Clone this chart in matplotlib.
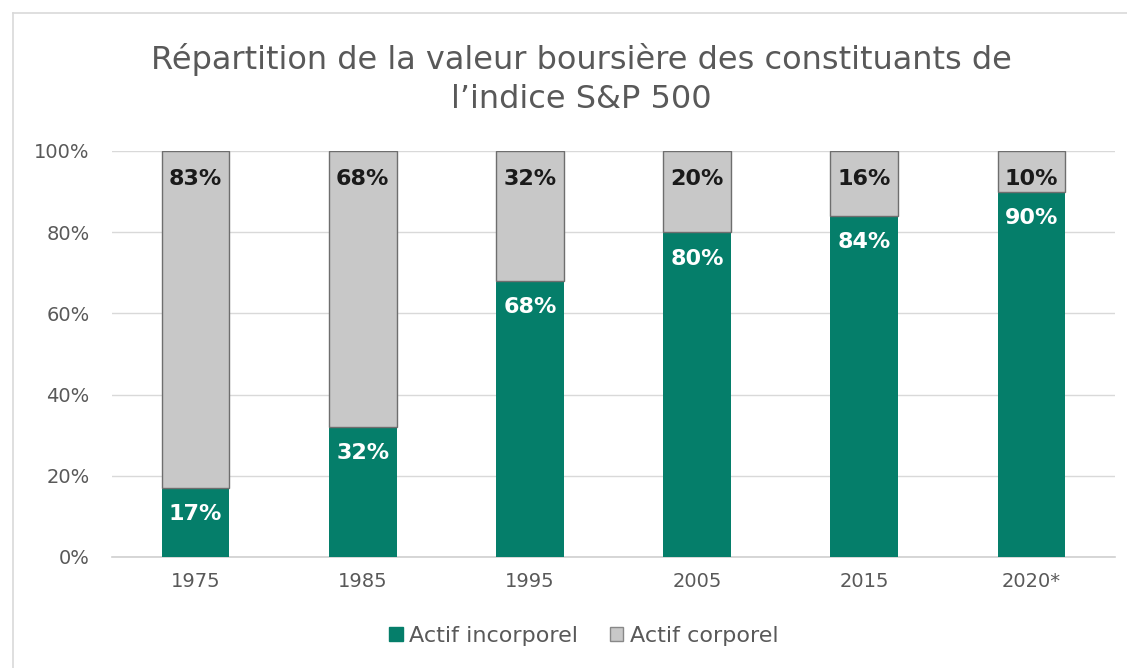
import matplotlib.pyplot as plt
from matplotlib.patches import Patch
from matplotlib.lines import Line2D
import numpy as np

# data
years = ['1975', '1985', '1995', '2005', '2015', '2020*']
incorporel = [17, 32, 68, 80, 84, 90]
corporel = [83, 68, 32, 20, 16, 10]

green = '#057e6a'
grey = '#c8c8c8'
text_grey = '#595959'

plt.rcParams['font.family'] = ['DejaVu Sans']

fig = plt.figure(figsize=(11.27, 6.68), dpi=100)
ax = fig.add_axes([0.0994, 0.1662, 0.8900, 0.6078])

x = np.arange(len(years))
w = 0.405
ax.bar(x, incorporel, w, color=green, zorder=3)
ax.bar(x, corporel, w, bottom=incorporel, color=grey,
       edgecolor='#6e6e6e', linewidth=1.0, zorder=3)

# labels near top of each segment
for xi, v in zip(x, incorporel):
    ax.annotate(f'{v}%', (xi, v), xytext=(0, -19), textcoords='offset points',
                ha='center', va='center', color='white', fontsize=16,
                fontweight='bold', zorder=4)
for xi, v in zip(x, corporel):
    ax.annotate(f'{v}%', (xi, 100), xytext=(0, -20), textcoords='offset points',
                ha='center', va='center', color='#1a1a1a', fontsize=16,
                fontweight='bold', zorder=4)

ax.set_xlim(-0.5, len(years) - 0.5)
ax.set_ylim(0, 100)
ax.set_yticks([0, 20, 40, 60, 80, 100])
ax.set_yticklabels([f'{t}%' for t in [0, 20, 40, 60, 80, 100]])
ax.set_xticks(x)
ax.set_xticklabels(years)
ax.tick_params(axis='both', length=0, labelsize=14, labelcolor=text_grey)
ax.tick_params(axis='y', pad=16)
ax.tick_params(axis='x', pad=11)
ax.grid(axis='y', color='#d9d9d9', linewidth=1, zorder=0)
ax.axhline(0, color='#d0d0d0', linewidth=1.2, clip_on=False, zorder=2)
for s in ax.spines.values():
    s.set_visible(False)

fig.text(0.516, 0.882, 'Répartition de la valeur boursière des constituants de\nl\u2019indice S&P 500',
         ha='center', va='center', fontsize=23, color=text_grey, linespacing=1.35)

handles = [Patch(facecolor=green, edgecolor=green),
           Patch(facecolor=grey, edgecolor='#888888')]
fig.legend(handles, ['Actif incorporel', 'Actif corporel'], loc='center',
           bbox_to_anchor=(0.518, 0.048), ncol=2, frameon=False, fontsize=16,
           labelcolor=text_grey, handlelength=0.6, handleheight=0.6,
           handletextpad=0.3, columnspacing=1.4)

# outer border (top and left)
fig.add_artist(Line2D([13 / 1127, 1], [1 - 13 / 668, 1 - 13 / 668], color='#d9d9d9', lw=1.2))
fig.add_artist(Line2D([13 / 1127, 13 / 1127], [0, 1 - 13 / 668], color='#d9d9d9', lw=1.2))

fig.savefig('out.png', dpi=100)
